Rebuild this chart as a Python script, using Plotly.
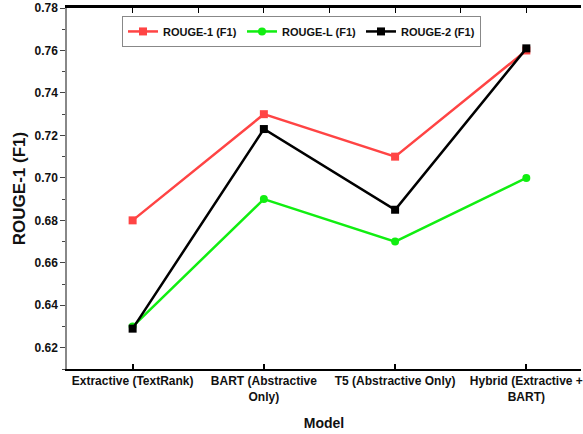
import plotly.graph_objects as go

models = ["Extractive (TextRank)", "BART (Abstractive<br>Only)", "T5 (Abstractive Only)", "Hybrid (Extractive +<br>BART)"]
rouge1 = [0.68, 0.73, 0.71, 0.76]
rougeL = [0.63, 0.69, 0.67, 0.70]
rouge2 = [0.629, 0.723, 0.685, 0.761]
yticks = [0.62, 0.64, 0.66, 0.68, 0.70, 0.72, 0.74, 0.76, 0.78]

xi = list(range(len(models)))
FONT = "Liberation Sans, Arial, sans-serif"

fig = go.Figure()
fig.add_trace(go.Scatter(x=xi, y=rouge1, name="ROUGE-1 (F1)", mode="lines+markers",
                         line=dict(color="#ff4444", width=2.5),
                         marker=dict(symbol="square", size=8, color="#ff4444")))
fig.add_trace(go.Scatter(x=xi, y=rougeL, name="ROUGE-L (F1)", mode="lines+markers",
                         line=dict(color="#11ee11", width=2.5),
                         marker=dict(symbol="circle", size=8, color="#11ee11")))
fig.add_trace(go.Scatter(x=xi, y=rouge2, name="ROUGE-2 (F1)", mode="lines+markers",
                         line=dict(color="#000000", width=2.5),
                         marker=dict(symbol="square", size=8, color="#000000")))
# invisible trace to activate top axis
fig.add_trace(go.Scatter(x=[xi[0]], y=[rouge1[0]], xaxis="x2", showlegend=False,
                         mode="markers", marker=dict(opacity=0), hoverinfo="skip"))

xr = [-0.5, 3.4165]
fig.update_layout(
    width=583, height=434,
    margin=dict(l=67, r=0, t=8, b=65),
    plot_bgcolor="white", paper_bgcolor="white",
    font=dict(family=FONT, color="#111111"),
    xaxis=dict(range=xr, tickvals=xi, ticktext=models,
               showline=True, linecolor="#000000", linewidth=2,
               ticks="inside", ticklen=5, tickwidth=1.5, tickcolor="#000000",
               showgrid=False, zeroline=False, ticklabeloverflow="allow",
               tickfont=dict(size=12, weight="bold", family=FONT),
               title=dict(text="Model", font=dict(size=14, weight="bold", family=FONT), standoff=15)),
    xaxis2=dict(range=xr, overlaying="x", side="top",
                tickvals=[-0.5 + 0.5 * k for k in range(9)],
                showticklabels=False, showline=True, linecolor="#000000", linewidth=2.5,
                ticks="inside", ticklen=5, tickwidth=1.2, tickcolor="#000000",
                showgrid=False, zeroline=False),
    yaxis=dict(range=[0.61, 0.78], tickvals=yticks, ticktext=[f"{v:.2f}" for v in yticks],
               showline=True, linecolor="#888888", linewidth=1.5,
               ticks="outside", ticklen=5, tickwidth=1.2, tickcolor="#444444",
               minor=dict(dtick=0.01, tick0=0.61, ticks="outside", ticklen=3, tickcolor="#444444", tickwidth=1),
               showgrid=False, zeroline=False,
               tickfont=dict(size=12, weight="bold", family=FONT),
               title=dict(text="ROUGE-1 (F1)", font=dict(size=17, weight="bold", family=FONT), standoff=5)),
    legend=dict(orientation="h", x=0.107, y=0.978, xanchor="left", yanchor="top",
                bordercolor="#888888", borderwidth=1, bgcolor="white",
                font=dict(size=11, weight="bold", family=FONT),
                itemwidth=30, entrywidth=74, tracegroupgap=0),
    showlegend=True,
)

fig.write_html("out.html")
